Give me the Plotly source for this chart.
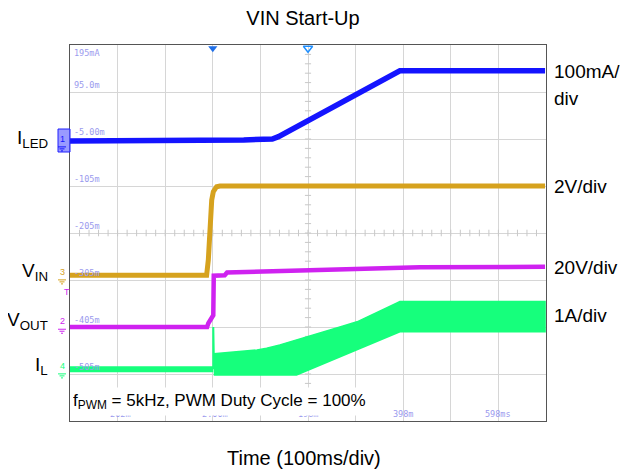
import plotly.graph_objects as go

# ---------------- data (time in ms, 100 ms/div; level in screen divisions) ----------------
iled_t   = [-300, 55, 65, 125, 138, 393, 698]
iled_div = [5.96, 5.96, 5.98, 6.00, 6.05, 7.45, 7.45]

vin_t   = [-300, -13, -9.4, -5.9, -2.3, 1.1, 8, 15, 698]
vin_div = [3.10, 3.10, 3.43, 4.13, 4.70, 4.88, 4.985, 5.0, 5.0]

vout_t   = [-300, -12, -9.4, -2.3, 1.0, 2.0, 25, 30, 204, 435, 698]
vout_div = [2.00, 2.00, 2.08, 2.22, 2.25, 3.09, 3.10, 3.16, 3.21, 3.27, 3.28]

il_pre_t   = [-300, 1]
il_pre_div = [1.10, 1.10]
il_spike_t   = [1, 1, 2]
il_spike_div = [1.10, 2.00, 1.43]
il_top_t   = [2, 93, 113, 141, 274, 303, 387, 393, 698]
il_top_div = [1.43, 1.51, 1.55, 1.62, 2.02, 2.11, 2.51, 2.54, 2.54]
il_bot_t   = [2, 176, 393, 698]
il_bot_div = [0.98, 0.98, 1.90, 1.90]

level_labels = ["-505m", "-405m", "-305m", "-205m", "-105m", "-5.00m", "95.0m", "195mA"]
level_divs   = [1, 2, 3, 4, 5, 6, 7, 8]
time_labels  = ["-202m", "-2.00m", "198m", "398m", "598ms"]
time_ticks   = [-200, 0, 200, 400, 600]

chan_names   = ["I<sub>LED</sub>", "V<sub>IN</sub>", "V<sub>OUT</sub>", "I<sub>L</sub>"]
chan_numbers = ["1", "3", "2", "4"]
chan_ground  = [5.96, 3.13, 2.08, 1.13]
chan_scales  = ["100mA/", "2V/div", "20V/div", "1A/div"]
scale_divs   = [7.43, 4.98, 3.26, 2.25]

BLUE, GOLD, MAG, GREEN = "#1414ff", "#d6a21e", "#cf22f0", "#16ff7c"
chan_colors = [BLUE, GOLD, MAG, GREEN]
LAV = "#9a9aee"
FONT = "Arial, Liberation Sans, sans-serif"

X0, X1, Y0, Y1 = -300, 700, 0, 8
PAGE = 8  # default body margin of the html page

fig = go.Figure()

# graticule minor ticks on centre lines
mx, my = [], []
for k in range(1, 50):
    t = X0 + k * 20
    mx += [t, t, None]
    my += [4 - 0.07, 4 + 0.07, None]
for k in range(1, 40):
    d = k * 0.2
    mx += [200 - 6.5, 200 + 6.5, None]
    my += [d, d, None]
fig.add_trace(go.Scatter(x=mx, y=my, mode="lines", line=dict(color="#c8c8c8", width=1),
                         hoverinfo="skip", showlegend=False))

# IL band
band_x = il_top_t + il_bot_t[::-1]
band_y = il_top_div + il_bot_div[::-1]
fig.add_trace(go.Scatter(x=band_x, y=band_y, fill="toself", fillcolor=GREEN, mode="lines",
                         line=dict(color=GREEN, width=1.5), hoverinfo="skip", showlegend=False))
fig.add_trace(go.Scatter(x=il_pre_t, y=il_pre_div, mode="lines", line=dict(color=GREEN, width=6),
                         showlegend=False))
fig.add_trace(go.Scatter(x=il_spike_t, y=il_spike_div, mode="lines", line=dict(color=GREEN, width=2),
                         showlegend=False))
# VOUT
fig.add_trace(go.Scatter(x=vout_t, y=vout_div, mode="lines", line=dict(color=MAG, width=4.5),
                         showlegend=False))
# VIN
fig.add_trace(go.Scatter(x=vin_t, y=vin_div, mode="lines", line=dict(color=GOLD, width=5),
                         showlegend=False))
# ILED
fig.add_trace(go.Scatter(x=iled_t, y=iled_div, mode="lines", line=dict(color=BLUE, width=5.5),
                         showlegend=False))

# channel ground arrows and trigger marker
arrow_y = chan_ground + [2.53]
arrow_c = chan_colors + [MAG]
fig.add_trace(go.Scatter(x=[X0 - 6] * len(arrow_y), y=arrow_y, mode="markers",
                         marker=dict(symbol="triangle-right", size=7, color=arrow_c),
                         cliponaxis=False, hoverinfo="skip", showlegend=False))
# trigger position markers at top
fig.add_trace(go.Scatter(x=[0], y=[7.93], mode="markers",
                         marker=dict(symbol="triangle-down", size=8, color="#1f6fe8"),
                         cliponaxis=False, hoverinfo="skip", showlegend=False))
fig.add_trace(go.Scatter(x=[200], y=[7.93], mode="markers",
                         marker=dict(symbol="triangle-down-open", size=8, color="#1f8fff",
                                     line=dict(width=1.5)),
                         cliponaxis=False, hoverinfo="skip", showlegend=False))

ann = []
# scope level labels
for lab, d in zip(level_labels, level_divs):
    ann.append(dict(x=X0, y=d, xref="x", yref="y", text=lab, showarrow=False,
                    xanchor="left", yanchor="top" if d == 8 else "bottom", xshift=2,
                    yshift=-1 if d == 8 else 0,
                    font=dict(family="DejaVu Sans Mono, monospace", size=8.5, color=LAV)))
# time labels
for lab, t in zip(time_labels, time_ticks):
    ann.append(dict(x=t, y=0, xref="x", yref="paper", text=lab, showarrow=False,
                    xanchor="center", yanchor="bottom", yshift=0,
                    font=dict(family="DejaVu Sans Mono, monospace", size=8.5, color=LAV)))
# fPWM box
ann.append(dict(x=0, y=(421 - 401) / 376, xref="paper", yref="paper",
                text="f<sub>PWM</sub> = 5kHz, PWM Duty Cycle = 100%", showarrow=False,
                xanchor="left", yanchor="middle", xshift=1, bgcolor="white",
                width=306, height=25, align="left", borderpad=1,
                font=dict(family=FONT, size=17, color="black")))
# left channel names
for name, d in zip(chan_names, chan_ground):
    ann.append(dict(x=0, y=d + 0.05, xref="paper", yref="y", text=name, showarrow=False,
                    xanchor="right", yanchor="middle", xshift=-20,
                    font=dict(family=FONT, size=19, color="black")))
# channel numbers
for num, d, c in zip(chan_numbers, chan_ground, chan_colors):
    ann.append(dict(x=0, y=d, xref="paper", yref="y", text=num, showarrow=False,
                    xanchor="center", yanchor="bottom", xshift=-8, yshift=-5,
                    font=dict(family=FONT, size=9, color=c)))
ann.append(dict(x=0, y=2.53, xref="paper", yref="y", text="T", showarrow=False,
                xanchor="center", yanchor="bottom", xshift=-3, yshift=3,
                font=dict(family=FONT, size=9, color=MAG)))
# right scale labels
for lab, d in zip(chan_scales, scale_divs):
    ann.append(dict(x=1, y=d, xref="paper", yref="y", text=lab, showarrow=False,
                    xanchor="left", yanchor="middle", xshift=6,
                    font=dict(family=FONT, size=19, color="black")))
ann.append(dict(x=1, y=6.86, xref="paper", yref="y", text="div", showarrow=False,
                xanchor="left", yanchor="middle", xshift=6,
                font=dict(family=FONT, size=19, color="black")))
# x title
ann.append(dict(x=(304 - 70) / 476, y=(421 - 458) / 376, xref="paper", yref="paper",
                text="Time (100ms/div)", showarrow=False, xanchor="center", yanchor="middle",
                font=dict(family=FONT, size=20, color="black")))

# channel-1 marker box and ground symbols
shapes = [dict(type="rect", xref="paper", yref="paper",
               x0=(58 - 70) / 476, x1=(70 - 70) / 476,
               y0=(421 - 152) / 376, y1=(421 - 129) / 376,
               fillcolor="rgba(120,120,255,0.75)", line=dict(color="#2020ff", width=1))]
for d, c in zip(chan_ground, chan_colors):
    for i, half in enumerate([4, 2.5, 1]):
        shapes.append(dict(type="line", xref="paper", yref="y",
                           x0=(62 - half - 70) / 476, x1=(62 + half - 70) / 476,
                           y0=d - (6 + 2 * i) / 47, y1=d - (6 + 2 * i) / 47,
                           line=dict(color=c, width=1)))

fig.update_layout(
    width=628 - PAGE, height=470 - PAGE,
    margin=dict(l=70 - PAGE, r=82, t=45 - PAGE, b=49),
    paper_bgcolor="white", plot_bgcolor="white",
    title=dict(text="VIN Start-Up", x=(303 - PAGE) / (628 - PAGE), xanchor="center",
               y=1 - (18 - PAGE) / (470 - PAGE), yanchor="middle",
               font=dict(family=FONT, size=20, color="black")),
    xaxis=dict(range=[X0, X1], tick0=0, dtick=100, showticklabels=False, ticks="",
               gridcolor="#d6d6d6", gridwidth=1, zeroline=False, showline=True,
               linecolor="#555555", linewidth=1.2, mirror=True, fixedrange=True),
    yaxis=dict(range=[Y0, Y1], tick0=0, dtick=1, showticklabels=False, ticks="",
               gridcolor="#d6d6d6", gridwidth=1, zeroline=False, showline=True,
               linecolor="#555555", linewidth=1.2, mirror=True, fixedrange=True),
    annotations=ann, shapes=shapes, showlegend=False,
)

fig.write_html("out.html")
